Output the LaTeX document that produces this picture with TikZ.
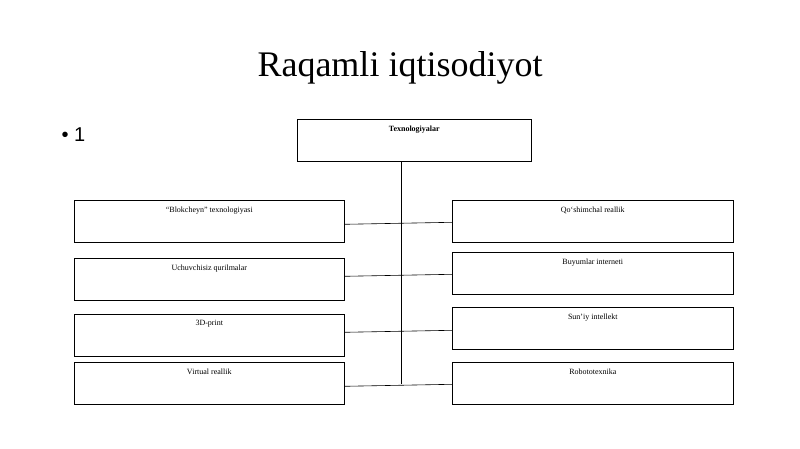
\documentclass[tikz,border=0pt]{standalone}
\usepackage{fontspec}
\setmainfont{Liberation Serif}
\setsansfont{Liberation Sans}
\begin{document}
\begin{tikzpicture}[x=1pt,y=-1pt,
  box/.style={draw,line width=0.6pt,minimum width=#1,minimum height=42pt,inner sep=0pt,anchor=north west},
  lbl/.style={font=\fontsize{8}{9}\selectfont,anchor=north},
  con/.style={line width=0.6pt}]
\useasboundingbox (0,0) rectangle (800,449);
\node[font=\fontsize{36}{40}\selectfont] (title) at (400,68) {Raqamli iqtisodiyot};
\node[font=\sffamily\fontsize{20}{22}\selectfont,anchor=west] (bul) at (58,135) {\textbullet\ 1};
\node[box=234pt] (T) at (297,119) {};
\node[lbl,font=\bfseries\fontsize{8}{9}\selectfont] at ([yshift=-3pt]T.north) {Texnologiyalar};
\foreach \n/\y/\t in {L1/200/{“Blokcheyn” texnologiyasi},L2/258/{Uchuvchisiz qurilmalar},L3/314/{3D-print},L4/362/{Virtual reallik}}{
  \node[box=270pt] (\n) at (74,\y) {};
  \node[lbl] at ([yshift=-3pt]\n.north) {\t};
}
\foreach \n/\y/\t in {R1/200/{Qo‘shimchal reallik},R2/252/{Buyumlar interneti},R3/307/{Sun’iy intellekt},R4/362/{Robototexnika}}{
  \node[box=281pt] (\n) at (452,\y) {};
  \node[lbl] at ([yshift=-3pt]\n.north) {\t};
}
\coordinate (bot) at (401,384);
\draw[con] (T.south -| bot) -- (bot);
\draw[con] ([yshift=-3pt]L1.east) -- ([yshift=-1pt]R1.west);
\draw[con] ([yshift=3pt]L2.east) -- ([yshift=-1pt]R2.west);
\draw[con] ([yshift=3pt]L3.east) -- ([yshift=-2pt]R3.west);
\draw[con] ([yshift=-3pt]L4.east) -- ([yshift=-1pt]R4.west);
\end{tikzpicture}
\end{document}
